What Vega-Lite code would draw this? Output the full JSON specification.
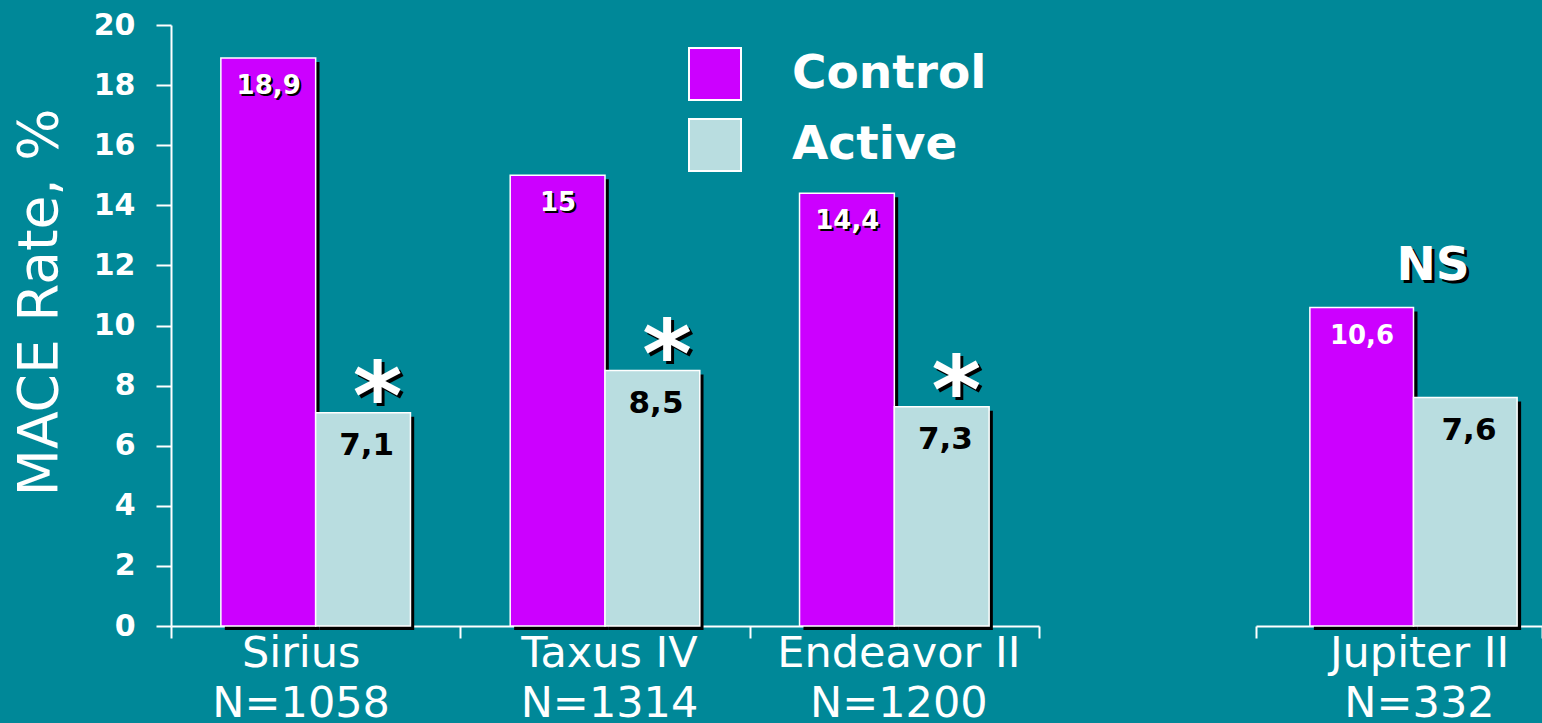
{
  "$schema": "https://vega.github.io/schema/vega-lite/v6.json",
  "background": "#008898",
  "padding": {"left": 12, "top": 10, "right": 0, "bottom": 0},
  "spacing": 215,
  "config": {"view": {"stroke": null}, "font": "DejaVu Sans"},
  "datasets": {
    "rates": [
      {"trial": "Sirius, N=1058", "group": "Control", "rate": 18.9, "label": "18,9", "sig": ""},
      {"trial": "Sirius, N=1058", "group": "Active", "rate": 7.1, "label": "7,1", "sig": "*"},
      {"trial": "Taxus IV, N=1314", "group": "Control", "rate": 15, "label": "15", "sig": ""},
      {"trial": "Taxus IV, N=1314", "group": "Active", "rate": 8.5, "label": "8,5", "sig": "*"},
      {"trial": "Endeavor II, N=1200", "group": "Control", "rate": 14.4, "label": "14,4", "sig": ""},
      {"trial": "Endeavor II, N=1200", "group": "Active", "rate": 7.3, "label": "7,3", "sig": "*"},
      {"trial": "Jupiter II, N=332", "group": "Control", "rate": 10.6, "label": "10,6", "sig": "NS"},
      {"trial": "Jupiter II, N=332", "group": "Active", "rate": 7.6, "label": "7,6", "sig": ""}
    ]
  },
  "resolve": {"scale": {"x": "independent", "y": "independent", "color": "independent", "xOffset": "independent"}},
  "hconcat": [
    {
      "width": 868,
      "height": 601,
      "data": {"name": "rates"},
      "transform": [{"filter": "datum.trial != 'Jupiter II, N=332'"}],
      "resolve": {"scale": {"xOffset": "independent"}},
      "encoding": {
        "x": {
          "field": "trial", "type": "nominal", "sort": null,
          "scale": {"paddingInner": 0, "paddingOuter": 0},
          "axis": {
            "title": null, "labelAngle": 0, "labelExpr": "datum.value ? split(datum.value, ', ') : ''",
            "labelFontSize": 43, "labelColor": "white", "labelFont": "DejaVu Sans",
            "labelLineHeight": 50, "labelPadding": -6, "labelLimit": 0,
            "labelOffset": {"condition": {"test": "datum.value == 'Sirius, N=1058'", "value": -15}, "value": 4},
            "tickSize": 12, "tickBand": "extent", "tickColor": "white", "tickWidth": 2,
            "domainColor": "white", "domainWidth": 2
          }
        },
        "y": {
          "field": "rate", "type": "quantitative",
          "scale": {"domain": [0, 20], "nice": false},
          "axis": {
            "values": [0, 2, 4, 6, 8, 10, 12, 14, 16, 18, 20], "grid": false,
            "tickSize": 15, "tickColor": "white", "tickWidth": 2,
            "domainColor": "white", "domainWidth": 2,
            "labelFontSize": 30, "labelFontWeight": "bold", "labelColor": "white", "labelPadding": 21,
            "title": "MACE Rate, %", "titleFontSize": 55, "titleFontWeight": "normal", "titleColor": "white", "titlePadding": 25, "titleY": 277
          }
        }
      },
      "layer": [
        {
          "mark": {"type": "bar", "color": "black", "yOffset": 4, "y2Offset": 4},
          "encoding": {
            "xOffset": {"field": "group", "type": "nominal", "sort": ["Control", "Active"], "scale": {"paddingInner": 0, "paddingOuter": 0.526, "range": [4, 293]}}
          }
        },
        {
          "mark": {"type": "bar", "stroke": "white", "strokeWidth": 1.5},
          "encoding": {
            "xOffset": {"field": "group", "type": "nominal", "sort": ["Control", "Active"], "scale": {"paddingInner": 0, "paddingOuter": 0.526}},
            "color": {
              "field": "group", "type": "nominal",
              "scale": {"domain": ["Control", "Active"], "range": ["#CC00FF", "#B9DDE0"]},
              "legend": {
                "orient": "none", "legendX": 517, "legendY": 22, "title": null, "padding": 0,
                "symbolType": "square", "symbolSize": 2704, "symbolStrokeColor": "white", "symbolStrokeWidth": 2, "symbolOpacity": 1,
                "labelFontSize": 47, "labelFontWeight": "bold", "labelColor": "white", "labelOffset": 50, "rowPadding": 11, "labelLimit": 0
              }
            }
          }
        },
        {
          "transform": [{"filter": "datum.group == 'Control'"}],
          "mark": {"type": "text", "fontSize": 26, "fontWeight": "bold", "color": "black", "baseline": "middle", "dx": -45, "dy": 30},
          "encoding": {"text": {"field": "label"}}
        },
        {
          "transform": [{"filter": "datum.group == 'Control'"}],
          "mark": {"type": "text", "fontSize": 26, "fontWeight": "bold", "color": "white", "baseline": "middle", "dx": -47, "dy": 28},
          "encoding": {"text": {"field": "label"}}
        },
        {
          "transform": [{"filter": "datum.group == 'Active'"}],
          "mark": {"type": "text", "fontSize": 31, "fontWeight": "bold", "color": "black", "baseline": "middle", "dx": 51, "dy": 33},
          "encoding": {"text": {"field": "label"}}
        },
        {
          "transform": [{"filter": "datum.sig == '*'"}],
          "mark": {"type": "text", "fontSize": 95, "fontWeight": "bold", "color": "black", "baseline": "middle", "dx": 65, "dy": -10},
          "encoding": {"text": {"field": "sig"}}
        },
        {
          "transform": [{"filter": "datum.sig == '*'"}],
          "mark": {"type": "text", "fontSize": 95, "fontWeight": "bold", "color": "white", "baseline": "middle", "dx": 62, "dy": -13},
          "encoding": {"text": {"field": "sig"}}
        }
      ]
    },
    {
      "width": 286,
      "height": 601,
      "data": {"name": "rates"},
      "transform": [{"filter": "datum.trial == 'Jupiter II, N=332'"}],
      "resolve": {"scale": {"xOffset": "independent"}},
      "encoding": {
        "x": {
          "field": "trial", "type": "nominal", "sort": null,
          "scale": {"paddingInner": 0, "paddingOuter": 0},
          "axis": {
            "title": null, "labelAngle": 0, "labelExpr": "datum.value ? split(datum.value, ', ') : ''",
            "labelFontSize": 43, "labelColor": "white", "labelFont": "DejaVu Sans",
            "labelLineHeight": 50, "labelPadding": -6, "labelLimit": 0,
            "tickSize": 12, "tickBand": "extent", "tickColor": "white", "tickWidth": 2, "labelOffset": 20,
            "domainColor": "white", "domainWidth": 2
          }
        },
        "y": {
          "field": "rate", "type": "quantitative",
          "scale": {"domain": [0, 20], "nice": false},
          "axis": null
        }
      },
      "layer": [
        {
          "mark": {"type": "bar", "color": "black", "yOffset": 4, "y2Offset": 4},
          "encoding": {
            "xOffset": {"field": "group", "type": "nominal", "sort": ["Control", "Active"], "scale": {"paddingInner": 0, "paddingOuter": 0.38, "align": 0.684, "range": [4, 290]}}
          }
        },
        {
          "mark": {"type": "bar", "stroke": "white", "strokeWidth": 1.5},
          "encoding": {
            "xOffset": {"field": "group", "type": "nominal", "sort": ["Control", "Active"], "scale": {"paddingInner": 0, "paddingOuter": 0.38, "align": 0.684}},
            "color": {
              "field": "group", "type": "nominal",
              "scale": {"domain": ["Control", "Active"], "range": ["#CC00FF", "#B9DDE0"]},
              "legend": null
            }
          }
        },
        {
          "transform": [{"filter": "datum.group == 'Control'"}],
          "mark": {"type": "text", "fontSize": 26, "fontWeight": "bold", "color": "white", "baseline": "middle", "dx": -37, "dy": 29},
          "encoding": {"text": {"field": "label"}}
        },
        {
          "transform": [{"filter": "datum.group == 'Active'"}],
          "mark": {"type": "text", "fontSize": 31, "fontWeight": "bold", "color": "black", "baseline": "middle", "dx": 70, "dy": 33},
          "encoding": {"text": {"field": "label"}}
        },
        {
          "transform": [{"filter": "datum.sig == 'NS'"}],
          "mark": {"type": "text", "fontSize": 47, "fontWeight": "bold", "color": "black", "baseline": "middle", "dx": 37, "dy": -38},
          "encoding": {"text": {"field": "sig"}}
        },
        {
          "transform": [{"filter": "datum.sig == 'NS'"}],
          "mark": {"type": "text", "fontSize": 47, "fontWeight": "bold", "color": "white", "baseline": "middle", "dx": 34, "dy": -41},
          "encoding": {"text": {"field": "sig"}}
        }
      ]
    }
  ]
}
